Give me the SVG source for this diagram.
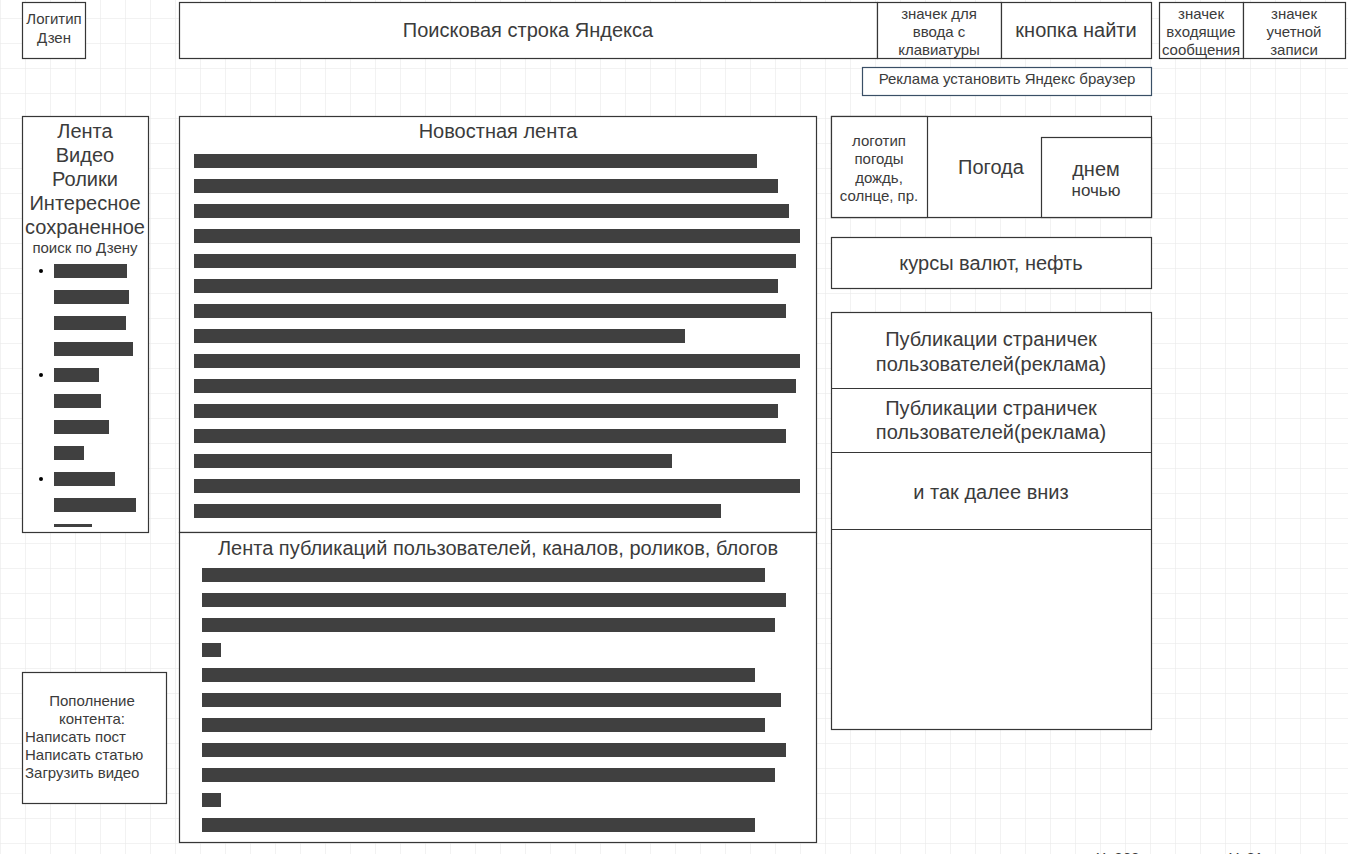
<svg xmlns="http://www.w3.org/2000/svg" width="1348" height="854" viewBox="0 0 1348 854">
<defs>
<pattern id="grid" x="0" y="18" width="25" height="25" patternUnits="userSpaceOnUse">
<path d="M0 0H25M0 0V25" fill="none" stroke="#e6e6e6" stroke-width="1"/>
</pattern>
<style>
.b{fill:#fff;stroke:#363636;stroke-width:1.2}
.t{font-family:"Liberation Sans",Arial,sans-serif;fill:#3b3b3b;text-anchor:middle}
.l{text-anchor:start}
.s13{font-size:15px}
.s18{font-size:20px}
.s15{font-size:17px}
.bar{fill:#404040}
</style>
</defs>
<rect width="1348" height="854" fill="#fff"/>
<rect width="1348" height="854" fill="url(#grid)"/>

<g id="logo">
<rect class="b" x="22.5" y="2.5" width="63" height="56"/>
<text class="t s13" x="54" y="24">Логитип</text>
<text class="t s13" x="54" y="43">Дзен</text>
</g>

<g id="search">
<rect class="b" x="179.5" y="2.5" width="698" height="56"/>
<text class="t s18" x="528" y="37">Поисковая строка Яндекса</text>
</g>

<g id="keyboard">
<rect class="b" x="877.5" y="2.5" width="124" height="56"/>
<text class="t s13" x="939" y="19">значек для</text>
<text class="t s13" x="939" y="37">ввода с</text>
<text class="t s13" x="939" y="55">клавиатуры</text>
</g>

<g id="find">
<rect class="b" x="1001.5" y="2.5" width="150" height="56"/>
<text class="t s18" x="1076" y="37">кнопка найти</text>
</g>

<g id="inbox">
<rect class="b" x="1159.5" y="2.5" width="84" height="56"/>
<text class="t s13" x="1201" y="19">значек</text>
<text class="t s13" x="1201" y="37">входящие</text>
<text class="t s13" x="1201" y="55">сообщения</text>
</g>

<g id="account">
<rect class="b" x="1243.5" y="2.5" width="102" height="56"/>
<text class="t s13" x="1294" y="19">значек</text>
<text class="t s13" x="1294" y="37">учетной</text>
<text class="t s13" x="1294" y="55">записи</text>
</g>

<g id="ad">
<rect x="862.5" y="67.5" width="289" height="28" fill="#fff" stroke="#3a4f66" stroke-width="1.2"/>
<text class="t s13" x="1007" y="84">Реклама установить Яндекс браузер</text>
</g>

<g id="sidebar">
<rect class="b" x="22.5" y="116.5" width="126" height="416"/>
<text class="t s18" x="85" y="138">Лента</text>
<text class="t s18" x="85" y="162">Видео</text>
<text class="t s18" x="85" y="186">Ролики</text>
<text class="t s18" x="85" y="210">Интересное</text>
<text class="t s18" x="85" y="234">сохраненное</text>
<text class="t s13" x="85" y="253">поиск по Дзену</text>
<circle cx="41" cy="271" r="2" fill="#000"/>
<circle cx="41" cy="375" r="2" fill="#000"/>
<circle cx="41" cy="479" r="2" fill="#000"/>
<rect class="bar" x="54" y="264" width="73" height="14"/>
<rect class="bar" x="54" y="290" width="75" height="14"/>
<rect class="bar" x="54" y="316" width="72" height="14"/>
<rect class="bar" x="54" y="342" width="79" height="14"/>
<rect class="bar" x="54" y="368" width="45" height="14"/>
<rect class="bar" x="54" y="394" width="47" height="14"/>
<rect class="bar" x="54" y="420" width="55" height="14"/>
<rect class="bar" x="54" y="446" width="30" height="14"/>
<rect class="bar" x="54" y="472" width="61" height="14"/>
<rect class="bar" x="54" y="498" width="82" height="14"/>
<rect class="bar" x="54" y="524" width="38" height="3"/>
</g>

<g id="news">
<rect class="b" x="179.5" y="116.5" width="637" height="416"/>
<text class="t s18" x="498" y="138">Новостная лента</text>
<rect class="bar" x="194" y="154" width="563" height="14"/>
<rect class="bar" x="194" y="179" width="584" height="14"/>
<rect class="bar" x="194" y="204" width="595" height="14"/>
<rect class="bar" x="194" y="229" width="606" height="14"/>
<rect class="bar" x="194" y="254" width="602" height="14"/>
<rect class="bar" x="194" y="279" width="584" height="14"/>
<rect class="bar" x="194" y="304" width="592" height="14"/>
<rect class="bar" x="194" y="329" width="491" height="14"/>
<rect class="bar" x="194" y="354" width="606" height="14"/>
<rect class="bar" x="194" y="379" width="602" height="14"/>
<rect class="bar" x="194" y="404" width="584" height="14"/>
<rect class="bar" x="194" y="429" width="592" height="14"/>
<rect class="bar" x="194" y="454" width="478" height="14"/>
<rect class="bar" x="194" y="479" width="606" height="14"/>
<rect class="bar" x="194" y="504" width="527" height="14"/>
</g>

<g id="userfeed">
<rect class="b" x="179.5" y="532.5" width="637" height="310"/>
<text class="t s18" x="498" y="555">Лента публикаций пользователей, каналов, роликов, блогов</text>
<rect class="bar" x="202" y="568" width="563" height="14"/>
<rect class="bar" x="202" y="593" width="584" height="14"/>
<rect class="bar" x="202" y="618" width="573" height="14"/>
<rect class="bar" x="202" y="643" width="19" height="14"/>
<rect class="bar" x="202" y="668" width="553" height="14"/>
<rect class="bar" x="202" y="693" width="579" height="14"/>
<rect class="bar" x="202" y="718" width="563" height="14"/>
<rect class="bar" x="202" y="743" width="584" height="14"/>
<rect class="bar" x="202" y="768" width="573" height="14"/>
<rect class="bar" x="202" y="793" width="19" height="14"/>
<rect class="bar" x="202" y="818" width="553" height="14"/>
</g>

<g id="weather">
<rect class="b" x="831.5" y="116.5" width="320" height="101"/>
<rect class="b" x="831.5" y="116.5" width="96" height="101"/>
<text class="t s13" x="879" y="146">логотип</text>
<text class="t s13" x="879" y="164">погоды</text>
<text class="t s13" x="879" y="183">дождь,</text>
<text class="t s13" x="879" y="201">солнце, пр.</text>
<text class="t s18" x="991" y="174">Погода</text>
<rect class="b" x="1041.5" y="137.5" width="110" height="80"/>
<text class="t s18" x="1096" y="176">днем</text>
<text class="t s15" x="1096" y="196">ночью</text>
</g>

<g id="currency">
<rect class="b" x="831.5" y="237.5" width="320" height="51"/>
<text class="t s18" x="991" y="270">курсы валют, нефть</text>
</g>

<g id="publications">
<rect class="b" x="831.5" y="312.5" width="320" height="417"/>
<line x1="831.5" y1="388.5" x2="1151.5" y2="388.5" stroke="#363636" stroke-width="1.2"/>
<line x1="831.5" y1="452.5" x2="1151.5" y2="452.5" stroke="#363636" stroke-width="1.2"/>
<line x1="831.5" y1="529.5" x2="1151.5" y2="529.5" stroke="#363636" stroke-width="1.2"/>
<text class="t s18" x="991" y="346">Публикации страничек</text>
<text class="t s18" x="991" y="371">пользователей(реклама)</text>
<text class="t s18" x="991" y="415">Публикации страничек</text>
<text class="t s18" x="991" y="439">пользователей(реклама)</text>
<text class="t s18" x="991" y="499">и так далее вниз</text>
</g>

<g id="content">
<rect class="b" x="22.5" y="672.5" width="144" height="131"/>
<text class="t s13" x="92" y="706">Пополнение</text>
<text class="t s13" x="92" y="724">контента:</text>
<text class="t s13 l" x="25" y="742">Написать пост</text>
<text class="t s13 l" x="25" y="760">Написать статью</text>
<text class="t s13 l" x="25" y="778">Загрузить видео</text>
</g>

<g id="coords">
<text class="t s13 l" x="1096" y="863">X: 262</text>
<text class="t s13 l" x="1229" y="863">Y: 81</text>
</g>
<g id="connectors"/>
</svg>
